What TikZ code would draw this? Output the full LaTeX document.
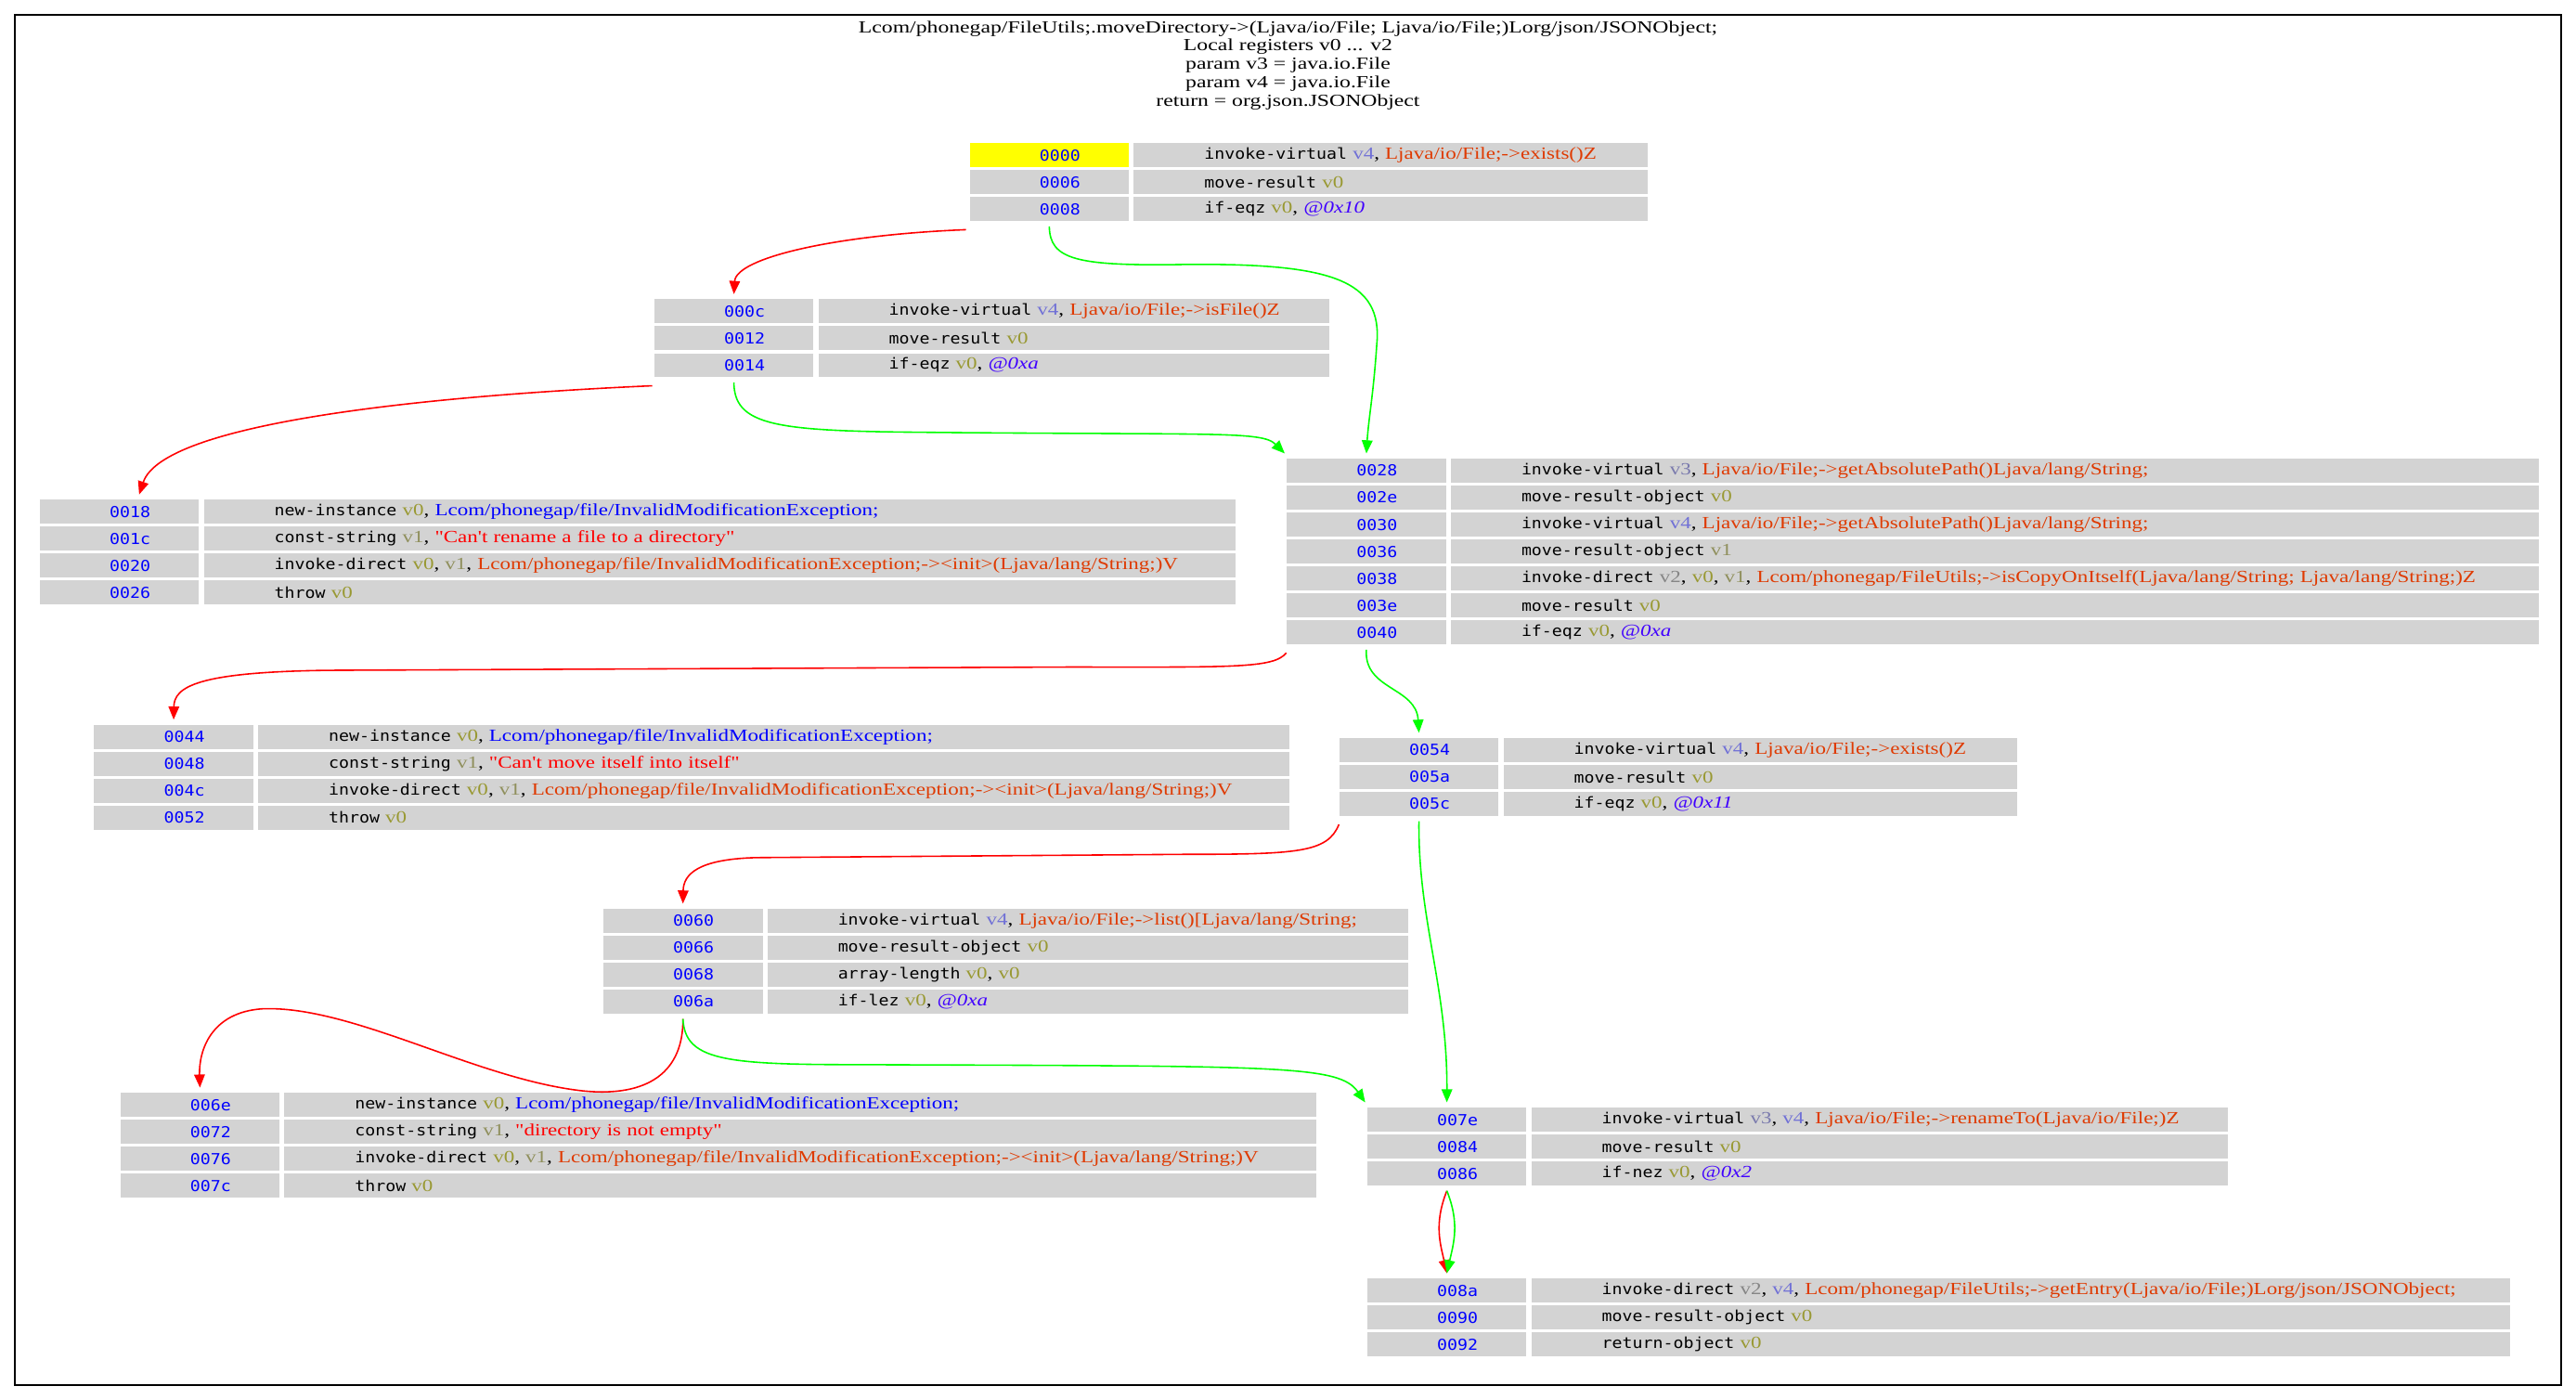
\documentclass[tikz,border=0pt]{standalone}
\usepackage{fontspec}
\usepackage{tikz}
\usetikzlibrary{arrows.meta,positioning}

\newfontfamily\serifw{Liberation Serif}[FakeStretch=1.25]
\newfontfamily\titlew{Liberation Serif}[FakeStretch=1.3]
\newfontfamily\monow{DejaVu Sans Mono}[FakeStretch=1.12]

\definecolor{rowgrey}{HTML}{D3D3D3}
\definecolor{startyellow}{HTML}{FFFF00}
\definecolor{regzero}{HTML}{999933}
\definecolor{regone}{HTML}{8F8F5C}
\definecolor{regtwo}{HTML}{858585}
\definecolor{regthree}{HTML}{7A7AAD}
\definecolor{regfour}{HTML}{7070D6}
\definecolor{methcol}{HTML}{DF3A01}
\definecolor{typecol}{HTML}{0000FF}
\definecolor{offcol}{HTML}{4000FF}

\newcommand{\mnem}[1]{{\monow\fontsize{9.2}{11}\selectfont #1}}
\newcommand{\vzero}{\textcolor{regzero}{v0}}
\newcommand{\vone}{\textcolor{regone}{v1}}
\newcommand{\vtwo}{\textcolor{regtwo}{v2}}
\newcommand{\vthree}{\textcolor{regthree}{v3}}
\newcommand{\vfour}{\textcolor{regfour}{v4}}
\newcommand{\meth}[1]{\textcolor{methcol}{#1}}
\newcommand{\ctype}[1]{\textcolor{typecol}{#1}}
\newcommand{\cstr}[1]{\textcolor{red}{#1}}
\newcommand{\coff}[1]{\textcolor{offcol}{\itshape #1}}

\begin{document}
\begin{tikzpicture}[x=1pt, y=-1pt,
    addr/.style={fill=rowgrey, minimum width=97pt, minimum height=14.6pt, inner sep=0pt,
        anchor=north west, text=blue, font=\monow\fontsize{9.2}{11}\selectfont,
        execute at begin node=\hspace{13pt}},
    ins/.style={fill=rowgrey, minimum height=14.6pt, inner sep=0pt, align=left,
        font=\serifw\fontsize{10.4}{11}\selectfont},
    brtrue/.style={draw=green, line width=0.9pt, -{Triangle[length=8pt,width=6.5pt]}},
    brfalse/.style={brtrue, draw=red}]
\useasboundingbox (0,0) rectangle (1568,851);
\draw[line width=0.8pt] (9,9) rectangle (1559,843);

\node[anchor=north, inner sep=0pt, align=center, font=\titlew\fontsize{10.3}{11.2}\selectfont] (title) at (784,12.5)
    {Lcom/phonegap/FileUtils;.moveDirectory->(Ljava/io/File; Ljava/io/File;)Lorg/json/JSONObject;\\
     Local registers v0 ... v2\\ param v3 = java.io.File\\ param v4 = java.io.File\\ return = org.json.JSONObject};

% block 0000 (entry)
\node[addr, fill=startyellow] (a0000) at (590,87) {0000};
\node[ins, text width=313pt, right=2.5pt of a0000] (i0000) {\hspace*{43pt}\mnem{invoke-virtual} \vfour, \meth{Ljava/io/File;->exists()Z}};
\foreach \a/\t [count=\i from 1] in {
    0006/{\mnem{move-result} \vzero},
    0008/{\mnem{if-eqz} \vzero, \coff{@0x10}}}
{
    \node[addr] (a\a) at (590,{87+16.4*\i}) {\a};
    \node[ins, text width=313pt, right=2.5pt of a\a] (i\a) {\hspace*{43pt}\t};
}

% block 000c
\foreach \a/\t [count=\i from 0] in {
    000c/{\mnem{invoke-virtual} \vfour, \meth{Ljava/io/File;->isFile()Z}},
    0012/{\mnem{move-result} \vzero},
    0014/{\mnem{if-eqz} \vzero, \coff{@0xa}}}
{
    \node[addr] (a\a) at (398,{182+16.4*\i}) {\a};
    \node[ins, text width=311pt, right=2.5pt of a\a] (i\a) {\hspace*{43pt}\t};
}

% block 0018
\foreach \a/\t [count=\i from 0] in {
    0018/{\mnem{new-instance} \vzero, \ctype{Lcom/phonegap/file/InvalidModificationException;}},
    001c/{\mnem{const-string} \vone, \cstr{"Can't rename a file to a directory"}},
    0020/{\mnem{invoke-direct} \vzero, \vone, \meth{Lcom/phonegap/file/InvalidModificationException;-><init>(Ljava/lang/String;)V}},
    0026/{\mnem{throw} \vzero}}
{
    \node[addr] (a\a) at (24,{304+16.4*\i}) {\a};
    \node[ins, text width=628pt, right=2.5pt of a\a] (i\a) {\hspace*{43pt}\t};
}

% block 0028
\foreach \a/\t [count=\i from 0] in {
    0028/{\mnem{invoke-virtual} \vthree, \meth{Ljava/io/File;->getAbsolutePath()Ljava/lang/String;}},
    002e/{\mnem{move-result-object} \vzero},
    0030/{\mnem{invoke-virtual} \vfour, \meth{Ljava/io/File;->getAbsolutePath()Ljava/lang/String;}},
    0036/{\mnem{move-result-object} \vone},
    0038/{\mnem{invoke-direct} \vtwo, \vzero, \vone, \meth{Lcom/phonegap/FileUtils;->isCopyOnItself(Ljava/lang/String; Ljava/lang/String;)Z}},
    003e/{\mnem{move-result} \vzero},
    0040/{\mnem{if-eqz} \vzero, \coff{@0xa}}}
{
    \node[addr] (a\a) at (783,{279+16.4*\i}) {\a};
    \node[ins, text width=662pt, right=2.5pt of a\a] (i\a) {\hspace*{43pt}\t};
}

% block 0044
\foreach \a/\t [count=\i from 0] in {
    0044/{\mnem{new-instance} \vzero, \ctype{Lcom/phonegap/file/InvalidModificationException;}},
    0048/{\mnem{const-string} \vone, \cstr{"Can't move itself into itself"}},
    004c/{\mnem{invoke-direct} \vzero, \vone, \meth{Lcom/phonegap/file/InvalidModificationException;-><init>(Ljava/lang/String;)V}},
    0052/{\mnem{throw} \vzero}}
{
    \node[addr] (a\a) at (57,{441+16.4*\i}) {\a};
    \node[ins, text width=628pt, right=2.5pt of a\a] (i\a) {\hspace*{43pt}\t};
}

% block 0054
\foreach \a/\t [count=\i from 0] in {
    0054/{\mnem{invoke-virtual} \vfour, \meth{Ljava/io/File;->exists()Z}},
    005a/{\mnem{move-result} \vzero},
    005c/{\mnem{if-eqz} \vzero, \coff{@0x11}}}
{
    \node[addr] (a\a) at (815,{449+16.4*\i}) {\a};
    \node[ins, text width=313pt, right=2.5pt of a\a] (i\a) {\hspace*{43pt}\t};
}

% block 0060
\foreach \a/\t [count=\i from 0] in {
    0060/{\mnem{invoke-virtual} \vfour, \meth{Ljava/io/File;->list()[Ljava/lang/String;}},
    0066/{\mnem{move-result-object} \vzero},
    0068/{\mnem{array-length} \vzero, \vzero},
    006a/{\mnem{if-lez} \vzero, \coff{@0xa}}}
{
    \node[addr] (a\a) at (367,{553+16.4*\i}) {\a};
    \node[ins, text width=390pt, right=2.5pt of a\a] (i\a) {\hspace*{43pt}\t};
}

% block 006e
\foreach \a/\t [count=\i from 0] in {
    006e/{\mnem{new-instance} \vzero, \ctype{Lcom/phonegap/file/InvalidModificationException;}},
    0072/{\mnem{const-string} \vone, \cstr{"directory is not empty"}},
    0076/{\mnem{invoke-direct} \vzero, \vone, \meth{Lcom/phonegap/file/InvalidModificationException;-><init>(Ljava/lang/String;)V}},
    007c/{\mnem{throw} \vzero}}
{
    \node[addr] (a\a) at (73,{665+16.4*\i}) {\a};
    \node[ins, text width=628pt, right=2.5pt of a\a] (i\a) {\hspace*{43pt}\t};
}

% block 007e
\foreach \a/\t [count=\i from 0] in {
    007e/{\mnem{invoke-virtual} \vthree, \vfour, \meth{Ljava/io/File;->renameTo(Ljava/io/File;)Z}},
    0084/{\mnem{move-result} \vzero},
    0086/{\mnem{if-nez} \vzero, \coff{@0x2}}}
{
    \node[addr] (a\a) at (832,{674+16.4*\i}) {\a};
    \node[ins, text width=424pt, right=2.5pt of a\a] (i\a) {\hspace*{43pt}\t};
}

% block 008a (return)
\foreach \a/\t [count=\i from 0] in {
    008a/{\mnem{invoke-direct} \vtwo, \vfour, \meth{Lcom/phonegap/FileUtils;->getEntry(Ljava/io/File;)Lorg/json/JSONObject;}},
    0090/{\mnem{move-result-object} \vzero},
    0092/{\mnem{return-object} \vzero}}
{
    \node[addr] (a\a) at (832,{778+16.4*\i}) {\a};
    \node[ins, text width=596pt, right=2.5pt of a\a] (i\a) {\hspace*{43pt}\t};
}

% branches: red = false, green = true
\draw[brfalse] ([xshift=-2pt,yshift=-5pt]a0008.south west) .. controls (508,143) and (448,157) .. ([yshift=3pt]a000c.north);
\draw[brtrue] ([yshift=-3pt]a0008.south) .. controls (639,158) and (655,162) .. (720,161)
    .. controls (810,160) and (842,170) .. (838,210) .. controls (836,240) and (833,255) .. ([yshift=3pt]a0028.north);
\draw[brfalse] ([xshift=-1pt,yshift=-5pt]a0014.south west) .. controls (280,240) and (100,255) .. ([xshift=12pt,yshift=3pt]a0018.north);
\draw[brtrue] ([yshift=-3pt]a0014.south) .. controls (447,258) and (470,262) .. (550,263)
    .. controls (740,265) and (768,262) .. ([xshift=-1pt,yshift=3pt]a0028.north west);
\draw[brfalse] ([yshift=-5pt]a0040.south west) .. controls (775,407) and (750,406) .. (650,406) -- (200,408)
    .. controls (120,409) and (106,418) .. ([yshift=3pt]a0044.north);
\draw[brtrue] ([yshift=-3pt]a0040.south) .. controls (830,420) and (862,418) .. ([yshift=3pt]a0054.north);
\draw[brfalse] ([yshift=-5pt]a005c.south west) .. controls (808,519) and (790,520) .. (720,520) -- (460,522)
    .. controls (425,523) and (416,532) .. ([yshift=3pt]a0060.north);
\draw[brtrue] ([yshift=-3pt]a005c.south) .. controls (863,560) and (881,600) .. ([yshift=3pt]a007e.north);
\draw[brfalse] ([yshift=-3pt]a006a.south) .. controls (416,652) and (395,668) .. (355,664)
    .. controls (290,657) and (215,612) .. (160,614) .. controls (128,616) and (121,640) .. ([yshift=3pt]a006e.north);
\draw[brtrue] ([yshift=-3pt]a006a.south) .. controls (417,645) and (440,648) .. (520,648)
    .. controls (780,649) and (815,648) .. ([xshift=-1pt,yshift=3pt]a007e.north west);
\draw[brfalse] ([yshift=-3pt]a0086.south) .. controls +(-8,20) and +(-4,-18) .. ([yshift=3pt]a008a.north);
\draw[brtrue] ([yshift=-3pt]a0086.south) .. controls +(8,20) and +(4,-18) .. ([yshift=3pt]a008a.north);
\end{tikzpicture}
\end{document}
